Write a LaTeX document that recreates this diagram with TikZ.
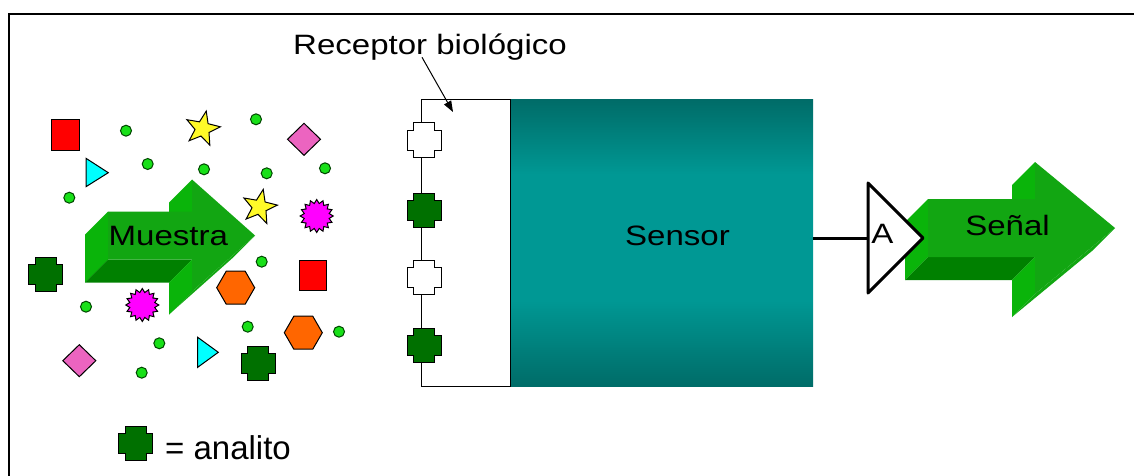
\documentclass[tikz,border=0pt]{standalone}
\usepackage{fontspec}
\setmainfont{Liberation Sans}
\newfontfamily\widesans[FakeStretch=1.18]{Liberation Sans}
\usetikzlibrary{arrows.meta,shapes.geometric}
\definecolor{frontG}{RGB}{18,166,18}
\definecolor{sideG}{RGB}{10,180,10}
\definecolor{bottomG}{RGB}{0,128,0}
\definecolor{tealD}{RGB}{0,108,104}
\definecolor{tealL}{RGB}{0,152,148}
\definecolor{analyteG}{RGB}{0,112,0}
\definecolor{dotG}{RGB}{24,224,24}
\definecolor{dotEdge}{RGB}{0,70,0}
\definecolor{pinkS}{RGB}{236,100,192}
\definecolor{orangeS}{RGB}{255,102,0}
\definecolor{yellowS}{RGB}{255,250,40}
\definecolor{magentaS}{RGB}{255,0,255}
\definecolor{cyanS}{RGB}{0,255,255}
\definecolor{redS}{RGB}{255,0,0}
\pgfdeclareverticalshading{sensorshade}{100bp}{color(0bp)=(tealD); color(25bp)=(tealD); color(40bp)=(tealL); color(62bp)=(tealL); color(75bp)=(tealD); color(100bp)=(tealD)}
% #1 x0, #2 x1 (head), #3 x2 (tip), #4 centre y, #5 body half height, #6 head half height, #7 depth
\newcommand\myBlockArrow[7]{%
  \fill[sideG] (#1,#4-#5) -- (#1,#4+#5) -- (#1-#7,#4+#5+#7) -- (#1-#7,#4-#5+#7) -- cycle;
  \fill[bottomG] (#1,#4+#5) -- (#2,#4+#5) -- (#2-#7,#4+#5+#7) -- (#1-#7,#4+#5+#7) -- cycle;
  \fill[sideG] (#2,#4-#6) -- (#2,#4-#5) -- (#2-#7,#4-#5+#7) -- (#2-#7,#4-#6+#7) -- cycle;
  \fill[sideG] (#2,#4+#5) -- (#2,#4+#6) -- (#2-#7,#4+#6+#7) -- (#2-#7,#4+#5+#7) -- cycle;
  \fill[frontG] (#2,#4+#6) -- (#3,#4) -- (#3-#7,#4+#7) -- (#2-#7,#4+#6+#7) -- cycle;
  \fill[frontG] (#1,#4-#5) -- (#2,#4-#5) -- (#2,#4-#6) -- (#3,#4) -- (#2,#4+#6) -- (#2,#4+#5) -- (#1,#4+#5) -- cycle;
}
\tikzset{
  plusmark/.pic={\path[pic actions] (-10.5,-17) -- (10.5,-17) -- (10.5,-10) -- (17,-10) -- (17,10) -- (10.5,10) -- (10.5,17) -- (-10.5,17) -- (-10.5,10) -- (-17,10) -- (-17,-10) -- (-10.5,-10) -- cycle;},
  shp/.style={draw=black, line width=1pt},
  dotmark/.style={draw=dotEdge, fill=dotG, line width=1pt},
  lbl/.style={inner sep=0, anchor=base, font=\widesans\fontsize{28}{32}\selectfont},
  thickline/.style={line width=3pt}
}
\begin{document}
\begin{tikzpicture}[x=1pt,y=-1pt]
\useasboundingbox (0,0) rectangle (1134,476);
\fill[white] (0,0) rectangle (1134,476);
\draw[line width=2pt] (1134,14) -- (9,14) -- (9,476);

% sample: small dots
\foreach \px/\py in {126/130.7, 256/119.3, 147.7/164, 204/169.3, 266.7/173.3, 325/168.3, 69.3/197.7, 261.7/261.7, 86/306.7, 247.7/326.7, 339/331.7, 159.3/343.3, 141.7/372.7}
  \filldraw[dotmark] (\px,\py) circle[radius=5.5];
% red squares
\filldraw[shp, fill=redS] (51.7,119.3) rectangle (79,150);
\filldraw[shp, fill=redS] (299.3,260) rectangle (326.7,290);
% pink diamonds
\filldraw[shp, fill=pinkS] (304,123.3) -- (320.5,139.3) -- (304,155.3) -- (287.5,139.3) -- cycle;
\filldraw[shp, fill=pinkS] (79.3,344.7) -- (95.8,360.7) -- (79.3,376.7) -- (62.8,360.7) -- cycle;
% cyan triangles
\filldraw[shp, fill=cyanS] (86,158.3) -- (108.3,172.7) -- (86,186.7) -- cycle;
\filldraw[shp, fill=cyanS] (197.7,337.3) -- (218.3,352.3) -- (197.7,367.3) -- cycle;
% stars
\node[star, star points=5, star point ratio=2.4, minimum size=36, inner sep=0, shp, fill=yellowS, rotate=-12] (star1) at (202.5,128.7) {};
\node[star, star points=5, star point ratio=2.4, minimum size=36, inner sep=0, shp, fill=yellowS, rotate=-12] (star2) at (259.5,207) {};
% bursts
\node[star, star points=16, star point ratio=1.3, minimum size=33, inner sep=0, shp, fill=magentaS] (burst1) at (316.7,216) {};
\node[star, star points=16, star point ratio=1.3, minimum size=33, inner sep=0, shp, fill=magentaS] (burst2) at (142.3,305) {};
% hexagons
\node[regular polygon, regular polygon sides=6, minimum size=38, inner sep=0, shp, fill=orangeS] (hex1) at (235.7,287.7) {};
\node[regular polygon, regular polygon sides=6, minimum size=38, inner sep=0, shp, fill=orangeS] (hex2) at (303.3,332.7) {};
% analyte crosses
\pic[shp, fill=analyteG] at (45.7,274) {plusmark};
\pic[shp, fill=analyteG] at (258.3,363.3) {plusmark};

% Muestra arrow
\myBlockArrow{108}{192}{255}{235.5}{24}{56}{23}
\node[lbl] (muestra) at (168.3,245) {Muestra};

% sensor and receptor
\node[shade, shading=sensorshade, minimum width=303, minimum height=286, inner sep=0, outer sep=0] (sensor) at (661.5,243) {};
\node[draw, fill=white, line width=1pt, minimum width=89, minimum height=286.5, inner sep=0, outer sep=0] (receptor) at (466,243.2) {};
\pic[shp, fill=white] at (424,140) {plusmark};
\pic[shp, fill=analyteG] at (424,210) {plusmark};
\pic[shp, fill=white] at (424,277) {plusmark};
\pic[shp, fill=analyteG] at (424,345) {plusmark};
\node[lbl] (sensorlbl) at (677.5,245) {Sensor};

\node[lbl] (reclbl) at (430,54.3) {Receptor biológico};
\coordinate (rectip) at (453,112);
\draw[line width=1pt, -{Triangle[length=11pt,width=8pt]}] ([xshift=-8pt,yshift=-3pt]reclbl.base) -- (rectip);

% Senal arrow
\myBlockArrow{928}{1035}{1115}{228}{29}{66}{23}
\node[lbl] (senal) at (1007.5,235) {Señal};

% amplifier
\coordinate (ampIn) at (868,238);
\draw[thickline] (sensor.east |- ampIn) -- (ampIn);
\filldraw[thickline, fill=white, line join=round] (868,183) -- (923,238) -- (868,293) -- cycle;
\node[lbl] (ampA) at (882.5,243) {A};

% legend
\pic[shp, fill=analyteG] at (135.8,443) {plusmark};
\node[inner sep=0, anchor=base west, font=\fontsize{33}{38}\selectfont] (legend) at (165,459.3) {= analito};
\end{tikzpicture}
\end{document}
